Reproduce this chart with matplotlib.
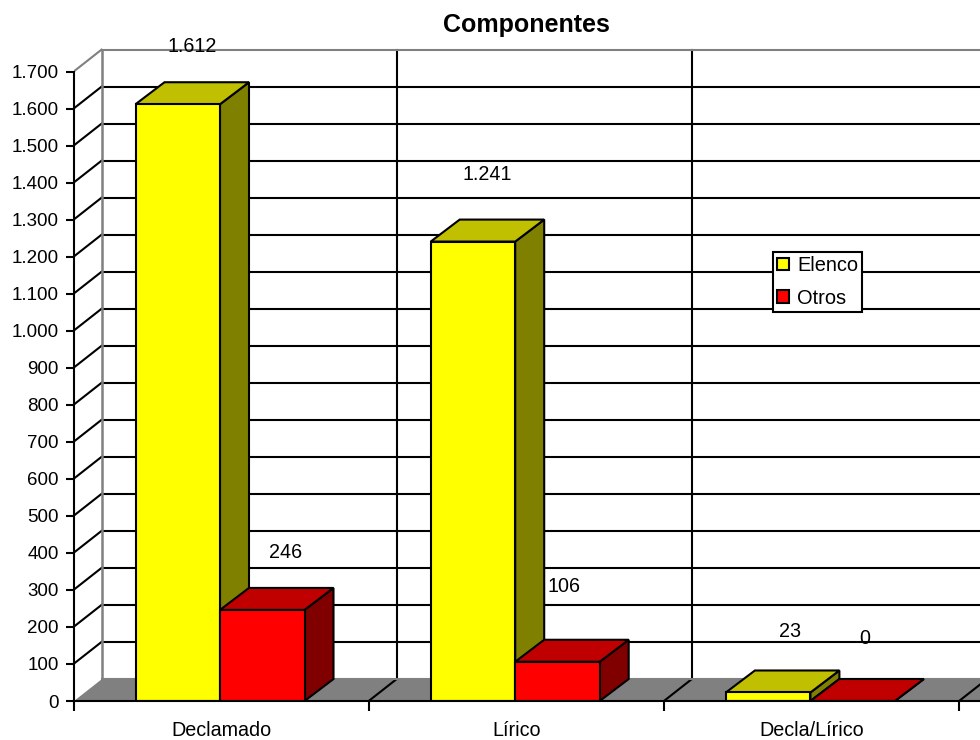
import matplotlib
matplotlib.use('Agg')
import matplotlib.pyplot as plt
from matplotlib.patches import Polygon, Patch
from matplotlib.ticker import FuncFormatter

plt.rcParams['font.family'] = ['Liberation Sans', 'DejaVu Sans']

categories = ['Declamado', 'Lírico', 'Decla/Lírico']
series_names = ['Elenco', 'Otros']
elenco = [1612, 1241, 23]
otros = [246, 106, 0]
y_ticks = list(range(0, 1800, 100))

# front, top, side colours of each series
elenco_cols = ['#FFFF00', '#C0C000', '#808000']
otros_cols = ['#FF0000', '#C00000', '#800000']

# label offsets in pixels from the top centre of the bar, these are irregular in the original
elenco_off = [(14, 58), (14, 67), (22, 61)]
otros_off = [(23, 57), (7, 75), (12, 62)]

W, H = 980, 740
left_px, base_px, top_px = 73.5, 701, 40
cat_px = 295.2
val_px = 0.3702
depth_x = 28 / cat_px
depth_y = 22 / val_px
bar_depth_x = 29 / cat_px
bar_start = 62 / cat_px
bar_w = 84.5 / cat_px
lw = 1.5


def draw_bar(ax, x, value, cols):
    # 3d look: front face, top face and right side
    front = [(x, 0), (x + bar_w, 0), (x + bar_w, value), (x, value)]
    top = [(x, value), (x + bar_w, value), (x + bar_w + bar_depth_x, value + depth_y), (x + bar_depth_x, value + depth_y)]
    side = [(x + bar_w, 0), (x + bar_w + bar_depth_x, depth_y), (x + bar_w + bar_depth_x, value + depth_y), (x + bar_w, value)]
    for pts, col in zip([side, top, front], [cols[2], cols[1], cols[0]]):
        ax.add_patch(Polygon(pts, closed=True, facecolor=col, edgecolor='black',
                             linewidth=lw, joinstyle='miter', zorder=5))


fig = plt.figure(figsize=(W / 100, H / 100), dpi=100)
ax = fig.add_axes([left_px / W, (H - base_px) / H, (W - left_px) / W, (base_px - top_px) / H])
xmax = (W - left_px) / cat_px
ymax = (base_px - top_px) / val_px
ax.set_xlim(0, xmax)
ax.set_ylim(0, ymax)
ax.patch.set_alpha(0)

# floor
ax.add_patch(Polygon([(0, 0), (xmax, 0), (xmax, depth_y), (depth_x, depth_y)], closed=True,
                     facecolor='#808080', edgecolor='none', zorder=1))
for k in range(len(categories) + 1):
    if k > 0:
        ax.plot([k, k + depth_x], [0, depth_y], color='black', lw=lw, zorder=2, solid_capstyle='butt')
        ax.plot([k + depth_x, k + depth_x], [depth_y, 1700 + depth_y], color='black', lw=lw, zorder=2)

# walls and grid
for v in y_ticks:
    col = '#808080' if v == 1700 or v == 0 else 'black'
    ax.plot([depth_x, xmax], [v + depth_y, v + depth_y], color=col, lw=lw, zorder=2, clip_on=False)
    if v > 0:
        ax.plot([0, depth_x], [v, v + depth_y], color=col, lw=lw, zorder=2)
ax.plot([depth_x, depth_x], [depth_y, 1700 + depth_y], color='#808080', lw=lw + 0.3, zorder=3)

# bars
for i in range(len(categories)):
    draw_bar(ax, i + bar_start, elenco[i], elenco_cols)
    draw_bar(ax, i + bar_start + bar_w, otros[i], otros_cols)

# value labels
for i in range(len(categories)):
    for vals, offs, shift in [(elenco, elenco_off, 0), (otros, otros_off, bar_w)]:
        txt = f'{vals[i]:,}'.replace(',', '.')
        ax.annotate(txt, (i + bar_start + shift + bar_w / 2, vals[i]),
                    xytext=(offs[i][0] * 0.72, offs[i][1] * 0.72), textcoords='offset points',
                    ha='center', va='center', fontsize=14.2, color='black', zorder=6,
                    annotation_clip=False)

# axes
for s in ['top', 'right']:
    ax.spines[s].set_visible(False)
ax.spines['left'].set_bounds(0, 1700)
ax.spines['left'].set_linewidth(lw)
ax.spines['bottom'].set_linewidth(lw)
ax.spines['left'].set_zorder(7)
ax.spines['bottom'].set_zorder(7)
ax.set_yticks(y_ticks)
ax.yaxis.set_major_formatter(FuncFormatter(lambda v, p: f'{int(v):,}'.replace(',', '.')))
ax.tick_params(axis='y', length=5.8, width=lw, labelsize=13.5, pad=4.8)
ax.set_xticks(range(len(categories) + 1))
ax.set_xticklabels([])
ax.set_xticks([k + 0.5 for k in range(len(categories))], minor=True)
ax.set_xticklabels(categories, minor=True, fontsize=14.2)
ax.tick_params(axis='x', which='major', length=7.2, width=lw)
ax.tick_params(axis='x', which='minor', length=0, pad=14.5)

fig.text(526 / W, 1 - 25 / H, 'Componentes', ha='center', va='center', fontsize=18, fontweight='bold')

handles = [Patch(facecolor=elenco_cols[0], edgecolor='black', linewidth=lw),
           Patch(facecolor=otros_cols[0], edgecolor='black', linewidth=lw)]
leg = ax.legend(handles, series_names, loc='upper left', bbox_to_anchor=(773 / W, 1 - 252 / H),
                bbox_transform=fig.transFigure, fontsize=14.4, fancybox=False, framealpha=1,
                edgecolor='black', handlelength=0.6, handleheight=0.6, handletextpad=0.42,
                borderaxespad=0, borderpad=0.2, labelspacing=0.68)
leg.get_frame().set_linewidth(lw)
leg.set_zorder(8)

fig.savefig('out.png', dpi=100)
